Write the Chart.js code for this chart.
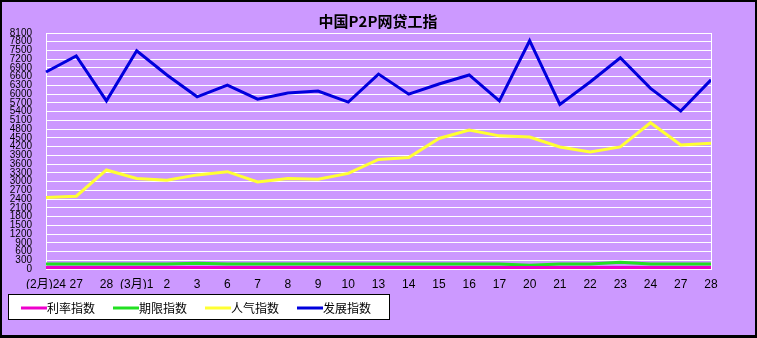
<!DOCTYPE html>
<html>
<head>
<meta charset="utf-8">
<script src="https://cdn.jsdelivr.net/npm/chart.js@4/dist/chart.umd.min.js"></script>
<style>
html,body{margin:0;padding:0;background:#CC99FF;}
#wrap{width:757px;height:338px;position:relative;}
</style>
</head>
<body>
<div id="wrap"><canvas id="c" width="757" height="338"></canvas></div>
<script>
const titleText = '中国P2P网贷工指';
const categories = ['(2月)24','27','28','(3月)1','2','3','6','7','8','9','10','13','14','15','16','17','20','21','22','23','24','27','28'];
const seriesNames = ['利率指数','期限指数','人气指数','发展指数'];
const seriesColors = ['#EE00CC','#22E022','#FFFF33','#0000DD'];
const rateIndex   = [50,50,50,50,50,50,50,50,50,50,50,50,50,50,50,50,50,50,50,50,50,50,50];
const termIndex   = [170,170,170,170,170,200,170,170,170,170,170,170,170,170,170,170,130,170,170,230,170,170,170];
const moodIndex   = [2450,2500,3400,3110,3050,3230,3340,2990,3110,3080,3280,3760,3830,4480,4770,4570,4530,4190,4020,4190,5020,4260,4320];
const growthIndex = [6760,7310,5770,7490,6660,5910,6310,5830,6040,6110,5730,6690,6000,6350,6660,5770,7835,5650,6420,7250,6200,5420,6490];
const yMin = 0, yMax = 8100, yStep = 300;

const allSeries = [rateIndex, termIndex, moodIndex, growthIndex];

const deco = {
  id: 'deco',
  beforeDraw(chart) {
    const ctx = chart.ctx;
    ctx.save();
    ctx.fillStyle = '#CC99FF';
    ctx.fillRect(0, 0, chart.width, chart.height);
    ctx.restore();
  },
  afterDatasetsDraw(chart) {
    const ctx = chart.ctx, a = chart.chartArea;
    ctx.save();
    ctx.strokeStyle = '#FFFFFF';
    ctx.lineWidth = 1;
    ctx.beginPath();
    ctx.moveTo(Math.round(a.right) + 0.5, a.top);
    ctx.lineTo(Math.round(a.right) + 0.5, a.bottom);
    ctx.stroke();
    ctx.restore();
  },
  afterDraw(chart) {
    const ctx = chart.ctx;
    ctx.save();
    // title
    ctx.fillStyle = '#000';
    ctx.font = 'bold 15px "Noto Sans CJK SC"';
    ctx.textAlign = 'center';
    ctx.textBaseline = 'middle';
    ctx.fillText(titleText, 378, 21);
    // legend box
    ctx.fillStyle = '#FFFFFF';
    ctx.fillRect(8, 294, 381, 25);
    ctx.strokeStyle = '#000';
    ctx.lineWidth = 1;
    ctx.strokeRect(8.5, 294.5, 381, 25);
    ctx.font = '12px "Noto Sans CJK SC"';
    ctx.textAlign = 'left';
    chart.data.datasets.forEach((ds, i) => {
      const x0 = 21 + i * 92;
      ctx.strokeStyle = ds.borderColor;
      ctx.lineWidth = 3;
      ctx.beginPath();
      ctx.moveTo(x0, 308);
      ctx.lineTo(x0 + 26, 308);
      ctx.stroke();
      ctx.fillStyle = '#000';
      ctx.fillText(ds.label, x0 + 26, 308);
    });
    // outer border
    ctx.fillStyle = '#000';
    ctx.fillRect(0, 0, chart.width, 2);
    ctx.fillRect(0, 0, 2, chart.height);
    ctx.fillRect(chart.width - 2, 0, 2, chart.height);
    ctx.fillRect(0, chart.height - 3, chart.width, 3);
    ctx.restore();
  }
};

new Chart(document.getElementById('c'), {
  type: 'line',
  data: {
    labels: categories,
    datasets: seriesNames.map((n, i) => ({
      label: n,
      data: allSeries[i],
      borderColor: seriesColors[i],
      backgroundColor: seriesColors[i],
      borderWidth: 3,
      pointRadius: 0,
      tension: 0,
      fill: false
    }))
  },
  options: {
    responsive: false,
    animation: false,
    layout: { padding: { top: 33, right: 46, left: 0, bottom: 49 } },
    plugins: { legend: { display: false }, title: { display: false }, tooltip: { enabled: false } },
    scales: {
      x: {
        offset: false,
        afterFit(s) { s.height = 20; },
        grid: { display: false, drawTicks: false },
        border: { display: true, color: '#FFFFFF' },
        ticks: { autoSkip: false, maxRotation: 0, minRotation: 0, padding: 8, color: '#000', font: { family: '"Liberation Sans", "Noto Sans CJK SC"', size: 12 } }
      },
      y: {
        min: yMin, max: yMax,
        afterFit(s) { s.width = 46; },
        grid: { color: '#FFFFFF', lineWidth: 1, drawTicks: false },
        border: { display: true, color: '#FFFFFF' },
        ticks: { stepSize: yStep, autoSkip: false, padding: 14, color: '#000', font: { family: '"Liberation Sans"', size: 10 }, callback: v => String(v) }
      }
    }
  },
  plugins: [deco]
});
</script>
</body>
</html>
